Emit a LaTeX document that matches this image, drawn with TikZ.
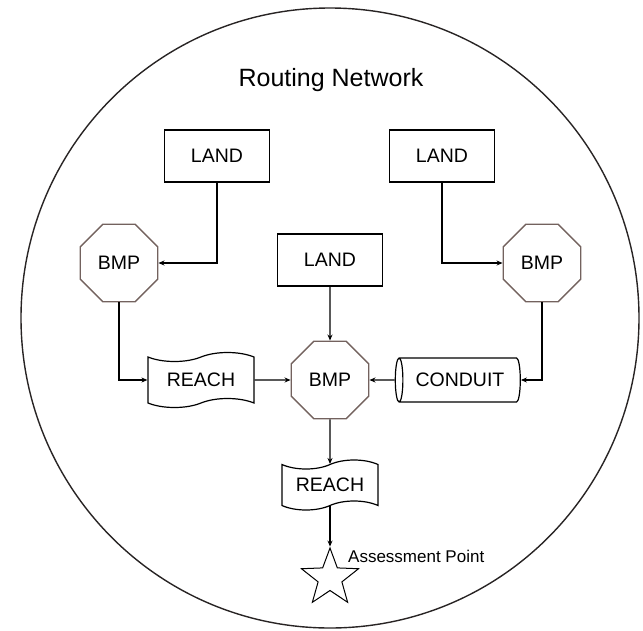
\documentclass[tikz,border=0pt]{standalone}
\usepackage{fontspec}
\setmainfont{Liberation Sans}
\usetikzlibrary{shapes.geometric,shapes.symbols,arrows.meta}
\definecolor{bmpedge}{RGB}{115,98,94}
\definecolor{ringcol}{RGB}{40,36,36}
\begin{document}
\begin{tikzpicture}[x=1pt,y=-1pt,
  every node/.style={font=\fontsize{19.5}{22}\selectfont, inner sep=0pt},
  landbox/.style={draw, line width=1.8pt, minimum width=105pt, minimum height=52pt},
  bmpgon/.style={regular polygon, regular polygon sides=8, draw=bmpedge, line width=1.3pt, minimum size=84pt},
  reachtape/.style={tape, draw, line width=1.2pt, tape bend height=9pt, minimum width=106pt, minimum height=55pt},
  conduitpipe/.style={cylinder, shape border rotate=180, aspect=0.55, draw, line width=1.2pt, minimum width=44pt, minimum height=125pt},
  outlet/.style={star, star points=5, star point ratio=2.4, draw, line width=1pt, minimum size=60pt},
  flow/.style={draw, line width=1.4pt, -{Stealth[length=6pt,width=5pt]}}
]
\useasboundingbox (0,0) rectangle (643,630);

% network boundary
\draw[line width=1.4pt, ringcol] (330,318) ellipse [x radius=309, y radius=310];

\node[font=\fontsize{25}{28}\selectfont, anchor=base] (title) at (331,86.5) {Routing Network};

% land segments
\node[landbox] (landL) at (217,156) {LAND};
\node[landbox] (landR) at (442,156) {LAND};
\node[landbox] (landC) at (330,260) {LAND};

% best management practices
\node[bmpgon] (bmpL) at (119,263) {BMP};
\node[bmpgon] (bmpR) at (542,263) {BMP};
\node[bmpgon] (bmpC) at (330,380) {BMP};

% reaches and conduit
\node[reachtape] (reachL) at (201,380) {REACH};
\node[conduitpipe] (conduit) at (460,380) {CONDUIT};
\node[reachtape, minimum width=96pt, minimum height=50pt] (reachB) at (330,485) {REACH};

% assessment point
\node[outlet] (outpt) at (330,578) {};
\node[font=\fontsize{17}{20}\selectfont, anchor=base west] (outlbl) at (348,562) {Assessment Point};

% flow connections
\draw[flow] (landL.south) |- (bmpL.east);
\draw[flow] (landR.south) |- (bmpR.west);
\draw[flow] (bmpL.south) |- (reachL.west);
\draw[flow] (bmpR.south) |- (conduit.east);
\draw[flow] (landC.south) -- (bmpC.north);
\draw[flow] (reachL.east) -- (bmpC.west);
\draw[flow] (conduit.west) -- (bmpC.east);
\draw[flow] (bmpC.south) -- (reachB.north);
\draw[flow] (reachB.south) -- (outpt.north);
\end{tikzpicture}
\end{document}
